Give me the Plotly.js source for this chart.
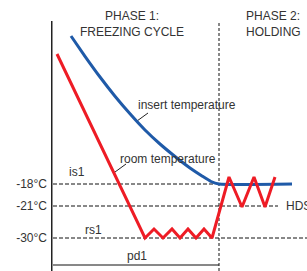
<!DOCTYPE html>
<html><head><meta charset="utf-8">
<script src="https://cdn.plot.ly/plotly-3.0.1.min.js"></script>
<style>html,body{margin:0;padding:0;background:#fff;}#chart{width:307px;height:271px;}</style>
</head><body><div id="chart"></div>
<script>
// Schematic units: x = time (arbitrary), y = schematic temperature level
const tempLevels = [87, 65, 33];
const tempLabels = ['-18°C', '-21°C', '-30°C'];

const roomX = [6, 94, 103, 112, 121, 129, 137, 145, 153, 161, 178, 191, 203, 214, 224];
const roomY = [217, 33, 42, 33, 42, 33, 42, 33, 42, 33, 94, 64, 94, 64, 94];

const insertX = [20, 34, 49, 64, 79, 94, 109, 124, 139, 151, 160, 168, 241];
const insertY = [235, 214.7, 194, 174.8, 157.2, 141, 127, 114.5, 103, 95, 89.5, 87, 87];

const phaseEnd = 168;      // end of phase 1 (pd1)
const axisTop = 250;
const is1End = 164, hdsEnd = 227, rs1End = 256;
const pd1Level = 6;

const txt = '#333333';
const font = {family: 'Liberation Sans, Arial, sans-serif', size: 12, color: txt};
const dash = '4px,2px';
const dk = '#111111';

const traces = [
  // y axis bar
  {x: [0, 0], y: [0, axisTop], mode: 'lines', line: {color: '#222', width: 3}},
  // dashed reference levels
  {x: [2, is1End], y: [tempLevels[0], tempLevels[0]], mode: 'lines', line: {color: dk, width: 1, dash: dash}},
  {x: [2, hdsEnd], y: [tempLevels[1], tempLevels[1]], mode: 'lines', line: {color: dk, width: 1, dash: dash}},
  {x: [2, rs1End], y: [tempLevels[2], tempLevels[2]], mode: 'lines', line: {color: dk, width: 1, dash: dash}},
  // phase boundary
  {x: [phaseEnd, phaseEnd], y: [0, axisTop], mode: 'lines', line: {color: dk, width: 1, dash: '3px,2px'}},
  // pd1 bar
  {x: [2, phaseEnd], y: [pd1Level, pd1Level], mode: 'lines', line: {color: dk, width: 1}},
  // leaders
  {x: [75, 64], y: [107, 99], mode: 'lines', line: {color: '#222', width: 1}},
  {x: [97, 86], y: [158, 150], mode: 'lines', line: {color: '#222', width: 1}},
  // series
  {x: insertX, y: insertY, mode: 'lines', line: {color: '#1f5aa8', width: 3, shape: 'spline', smoothing: 0.5}},
  {x: roomX, y: roomY, mode: 'lines', line: {color: '#ee1c25', width: 3}}
];

const ann = (text, x, y, xanchor, align) => ({text, x, y, xref: 'x', yref: 'y', showarrow: false,
  xanchor: xanchor || 'center', yanchor: 'middle', align: align || 'center', font});

const layout = {
  width: 307, height: 271,
  margin: {l: 51, r: 0, t: 0, b: 0, pad: 0},
  paper_bgcolor: '#fff', plot_bgcolor: '#fff',
  showlegend: false,
  xaxis: {range: [0, 256], visible: false, fixedrange: true},
  yaxis: {range: [0, 271], showgrid: false, zeroline: false, showline: false,
          tickvals: tempLevels, ticktext: tempLabels, ticks: '', ticklabelstandoff: 3,
          tickfont: font, fixedrange: true},
  annotations: [
    ann('PHASE 1:<br>FREEZING CYCLE', 81, 247),
    ann('PHASE 2:<br>HOLDING', 193, 247, 'left', 'left'),
    ann('insert temperature', 136, 166),
    ann('room temperature', 117, 112),
    ann('is1', 26, 99),
    ann('rs1', 42, 41),
    ann('pd1', 86, 15),
    ann('HDS', 233, 65, 'left', 'left')
  ]
};

Plotly.newPlot('chart', traces, layout, {staticPlot: true, displayModeBar: false});
</script></body></html>
